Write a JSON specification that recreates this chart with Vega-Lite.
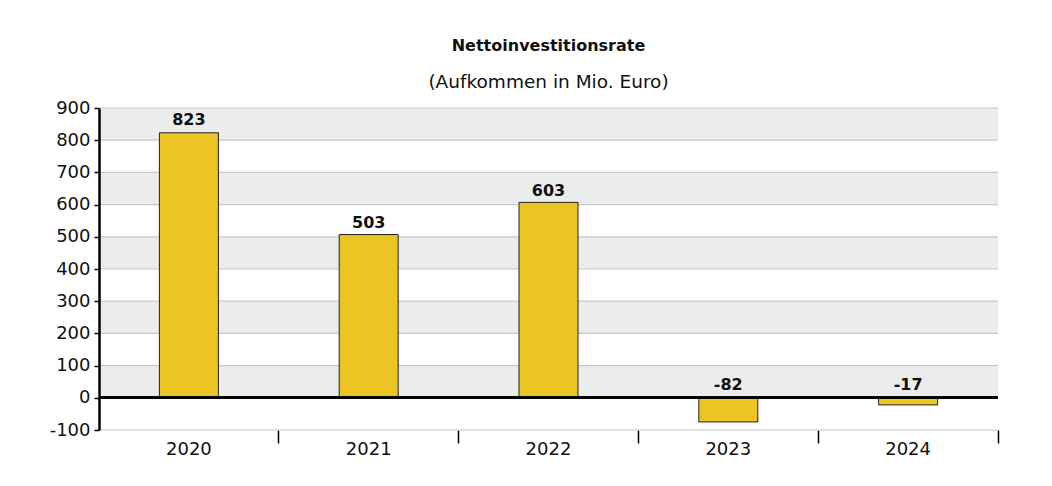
{
  "$schema": "https://vega.github.io/schema/vega-lite/v6.json",
  "autosize": "none",
  "width": 899,
  "height": 322,
  "padding": {"left": 99, "top": 108, "right": 54, "bottom": 56},
  "background": "white",
  "config": {
    "view": {"stroke": null},
    "font": "DejaVu Sans",
    "locale": {"number": {"decimal": ".", "thousands": "", "grouping": [3], "currency": ["", ""], "minus": "-"}},
    "axis": {"labelFont": "DejaVu Sans", "labelFontSize": 18, "labelColor": "#111111", "labelOverlap": false},
    "axisY": {"labelOverlap": false, "labelFlush": false, "labelSeparation": 0}
  },
  "title": {
    "text": "Nettoinvestitionsrate",
    "subtitle": "(Aufkommen in Mio. Euro)",
    "font": "DejaVu Sans",
    "fontSize": 16,
    "fontWeight": "bold",
    "color": "#111111",
    "subtitleFont": "DejaVu Sans",
    "subtitleFontSize": 18.5,
    "subtitleColor": "#111111",
    "subtitlePadding": 19,
    "anchor": "middle",
    "offset": 8
  },
  "datasets": {
    "bars": [
      {"year": "2020", "value": 823, "label": 823},
      {"year": "2021", "value": 507, "label": 503},
      {"year": "2022", "value": 607, "label": 603},
      {"year": "2023", "value": -75, "label": -82},
      {"year": "2024", "value": -22, "label": -17}
    ],
    "bands": [
      {"from": 0, "to": 100},
      {"from": 200, "to": 300},
      {"from": 400, "to": 500},
      {"from": 600, "to": 700},
      {"from": 800, "to": 900}
    ],
    "grid": [
      {"v": -100}, {"v": 0}, {"v": 100}, {"v": 200}, {"v": 300}, {"v": 400},
      {"v": 500}, {"v": 600}, {"v": 700}, {"v": 800}, {"v": 900}
    ]
  },
  "encoding": {
    "y": {"type": "quantitative", "scale": {"domain": [-100, 900]},
      "axis": {
        "values": [-100, 0, 100, 200, 300, 400, 500, 600, 700, 800, 900],
        "format": "d",
        "labelOverlap": false, "labelFlush": false,
        "title": null, "grid": false, "zindex": 2,
        "domainColor": "#000000", "domainWidth": 2.5,
        "tickColor": "#000000", "tickSize": 5, "tickWidth": 1.5,
        "labelPadding": 4
      }}
  },
  "layer": [
    {
      "data": {"name": "bands"},
      "mark": {"type": "rect", "color": "#EBECEC"},
      "encoding": {
        "y": {"field": "from"},
        "y2": {"field": "to"}
      }
    },
    {
      "data": {"name": "grid"},
      "mark": {"type": "rule", "color": "#C8C8C8", "strokeWidth": 1.2},
      "encoding": {"y": {"field": "v"}}
    },
    {
      "data": {"name": "bars"},
      "mark": {"type": "bar", "color": "#EBC524", "stroke": "#222222", "strokeWidth": 1, "size": 59},
      "encoding": {
        "x": {"field": "year", "type": "nominal", "sort": null,
          "scale": {"paddingInner": 0, "paddingOuter": 0},
          "axis": {"title": null, "labelAngle": 0, "domain": false,
            "bandPosition": 1, "tickColor": "#000000", "tickSize": 13, "tickWidth": 1.5,
            "labelPadding": -3}},
        "y": {"field": "value"}
      }
    },
    {
      "data": {"name": "bars"},
      "mark": {"type": "rule", "color": "#000000", "strokeWidth": 2.5},
      "encoding": {"y": {"datum": 0}}
    },
    {
      "data": {"name": "bars"},
      "transform": [{"filter": "datum.label >= 0"}],
      "mark": {"type": "text", "font": "DejaVu Sans", "fontWeight": "bold", "fontSize": 16, "baseline": "alphabetic", "dy": -8, "color": "#111111"},
      "encoding": {
        "x": {"field": "year", "type": "nominal", "sort": null},
        "y": {"field": "label"},
        "text": {"field": "label", "type": "nominal"}
      }
    },
    {
      "data": {"name": "bars"},
      "transform": [{"filter": "datum.label < 0"}],
      "mark": {"type": "text", "font": "DejaVu Sans", "fontWeight": "bold", "fontSize": 16, "baseline": "alphabetic", "dy": -8, "color": "#111111"},
      "encoding": {
        "x": {"field": "year", "type": "nominal", "sort": null},
        "y": {"datum": 0},
        "text": {"field": "label", "type": "nominal"}
      }
    }
  ]
}
